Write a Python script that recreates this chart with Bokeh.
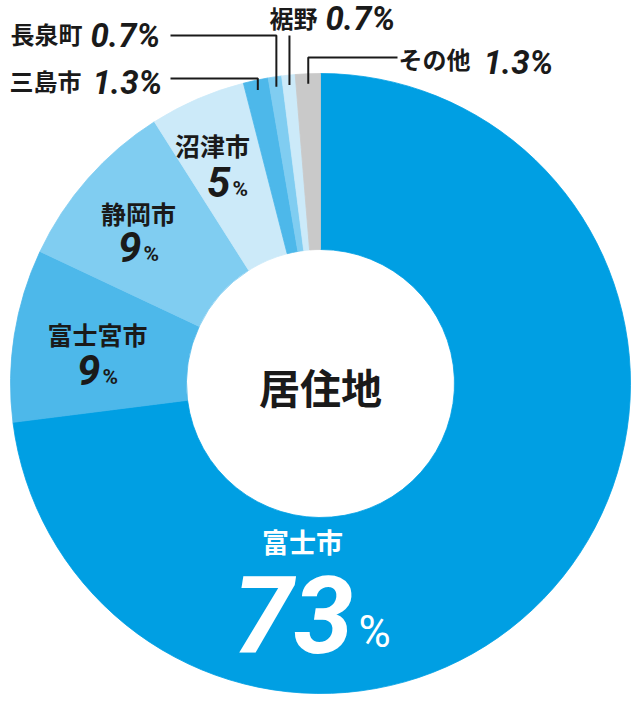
import numpy as np
from bokeh.plotting import figure
from bokeh.models import Range1d
from bokeh.core.properties import value
from bokeh.embed import file_html
from bokeh.resources import INLINE

# data
names = ["富士市", "富士宮市", "静岡市", "沼津市", "三島市", "長泉町", "裾野", "その他"]
shares = [73, 9, 9, 5, 1.3, 0.7, 0.7, 1.3]
share_labels = ["73", "9", "9", "5", "1.3", "0.7", "0.7", "1.3"]
center_label = "居住地"

colors = ["#009fe3", "#4db8ea", "#80cdf1", "#cceaf9",
          "#4db8ea", "#80cdf1", "#cceaf9", "#c9c9c9"]

H = 720
def Y(y):
    # page pixel row -> data y
    return H - y

def base(row, size):
    # row of the glyph bottoms -> anchor for an alphabetic baseline
    return Y(row - 0.31 * size)

JP = value("Noto Sans CJK JP")
NUM = value("'Liberation Sans Narrow', Roboto")
INK = "#1a1a1a"

cx, cy = 320, Y(383)
r_in, r_out = 134, 310

p = figure(width=632, height=712, x_range=Range1d(0, 632), y_range=Range1d(8, 720),
           x_axis_type=None, y_axis_type=None, toolbar_location=None,
           output_backend="svg", min_border=0, outline_line_color=None)
p.grid.visible = False

frac = np.array(shares) / sum(shares)
cum = np.concatenate([[0], np.cumsum(frac)])
start = np.pi / 2 - 2 * np.pi * cum[:-1]
end = np.pi / 2 - 2 * np.pi * cum[1:]
mid = (start + end) / 2

p.annular_wedge(x=cx, y=cy, inner_radius=r_in, outer_radius=r_out,
                start_angle=start, end_angle=end, direction="clock",
                fill_color=colors, line_color=colors, line_width=0.8)

# leader lines for the thin slices: (elbow row, horizontal end x or None)
leaders = {4: (78, 170), 5: (35, 170), 6: (35, None), 7: (57, 397)}
for i, (ey, hx) in leaders.items():
    px = cx + 300 * np.cos(mid[i])
    py = cy + 300 * np.sin(mid[i])
    xs, ys = [px, px], [py, Y(ey)]
    if hx is not None:
        xs.append(hx)
        ys.append(Y(ey))
    p.line(xs, ys, line_color=INK, line_width=2)

# outside labels: name right edge, pct left edge, name middle row, pct bottom row
outside = {4: (81, 92, 80, 92), 5: (82, 90, 33, 45), 6: (317, 325, 17, 28), 7: (470, 483, 58, 72)}
for i, (nx, tx, ny, ty) in outside.items():
    p.text([nx], [Y(ny)], text=[names[i]], text_font=JP, text_font_size="24px",
           text_font_style="bold", text_color=INK, text_align="right", text_baseline="middle")
    p.text([tx], [base(ty, 33)], text=[share_labels[i] + "%"], text_font=NUM,
           text_font_size="33px", text_font_style="bold italic", text_color=INK,
           text_align="left", text_baseline="alphabetic")

# inside labels: name centre, pct centre x and bottom row
inside = {1: (97, 333, 383), 2: (138, 212, 260), 3: (212, 144, 195)}
pct_cx = {1: 97, 2: 138, 3: 227}
for i, (nx, ny, ty) in inside.items():
    p.text([nx], [Y(ny)], text=[names[i]], text_font=JP, text_font_size="25px",
           text_font_style="bold", text_color=INK, text_align="center", text_baseline="middle")
    px = pct_cx[i]
    p.text([px + 3], [base(ty, 42)], text=[share_labels[i]], text_font=NUM,
           text_font_size="42px", text_font_style="bold italic", text_color=INK,
           text_align="right", text_baseline="alphabetic")
    p.text([px + 5], [base(ty, 21)], text=["%"], text_font=NUM, text_font_size="21px",
           text_font_style="bold", text_color=INK, text_align="left",
           text_baseline="alphabetic")

# the big slice
p.text([302], [Y(541)], text=[names[0]], text_font=JP, text_font_size="27px",
       text_font_style="bold", text_color="white", text_align="center", text_baseline="middle")
p.text([353], [base(647, 108)], text=[share_labels[0]], text_font=NUM, text_font_size="108px",
       text_font_style="bold italic", text_color="white", text_align="right",
       text_baseline="alphabetic")
p.text([358], [base(645, 44)], text=["%"], text_font=NUM, text_font_size="44px",
       text_color="white", text_align="left", text_baseline="alphabetic")

p.text([cx], [Y(385)], text=[center_label], text_font=JP, text_font_size="41px",
       text_font_style="bold", text_color=INK, text_align="center", text_baseline="middle")

open("out.html", "w").write(file_html(p, INLINE))
